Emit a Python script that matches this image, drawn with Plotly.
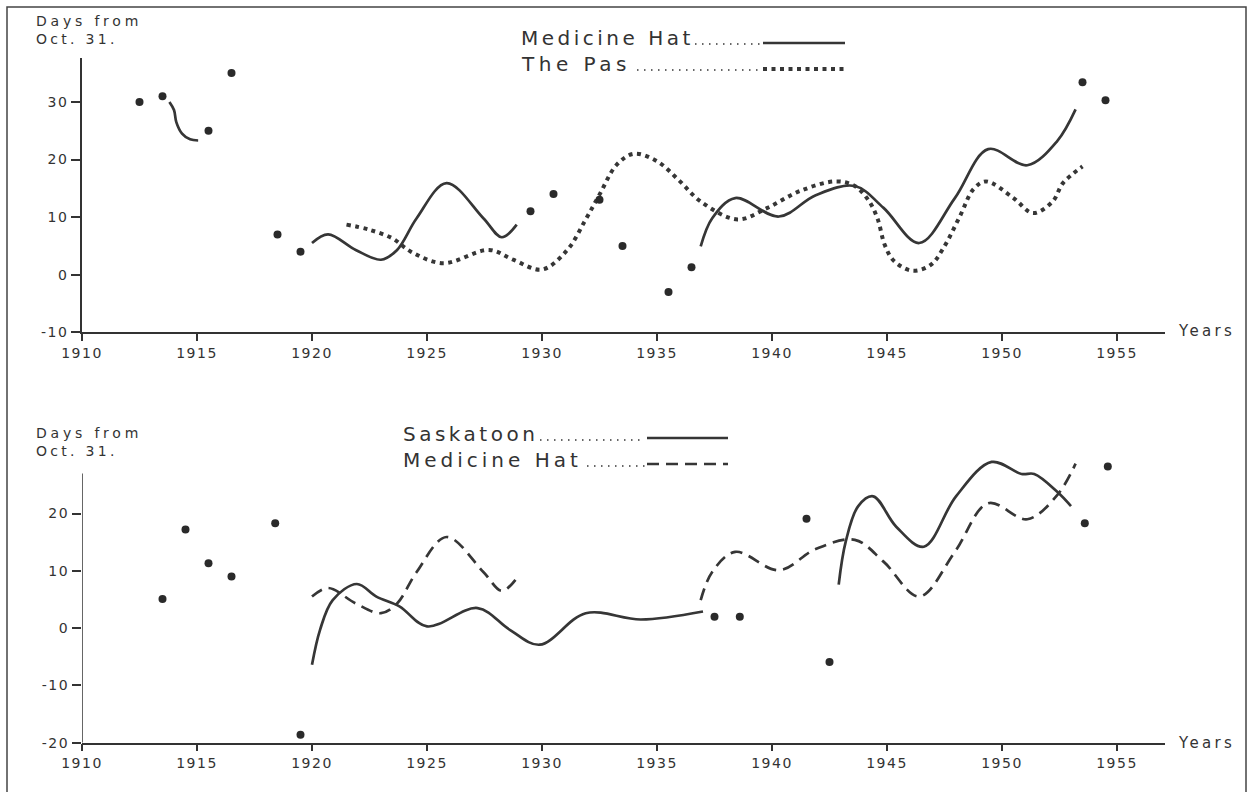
import plotly.graph_objects as go

# ---------------- data ----------------
x_ticks = [1910, 1915, 1920, 1925, 1930, 1935, 1940, 1945, 1950, 1955]
x_tick_labels = ["1910", "1915", "1920", "1925", "1930", "1935", "1940", "1945", "1950", "1955"]
top_y_ticks = [-10, 0, 10, 20, 30]
top_y_labels = ["-10", "0", "10", "20", "30"]
bottom_y_ticks = [-20, -10, 0, 10, 20]
bottom_y_labels = ["-20", "-10", "0", "10", "20"]

# upper panel: single-year observations
top_dot_years = [1912.5, 1913.5, 1915.5, 1916.5, 1918.5, 1919.5, 1929.5, 1930.5,
                 1932.5, 1933.5, 1935.5, 1936.5, 1953.5, 1954.5]
top_dot_days = [30, 31, 25, 35, 7, 4, 11, 14, 13, 5, -3, 1.3, 33.4, 30.3]

# Medicine Hat smoothed curve (three pieces)
mh_seg1_years = [1913.8, 1914.0, 1914.1, 1914.35, 1914.7, 1915.05]
mh_seg1_days = [30, 28.6, 26.5, 24.5, 23.5, 23.3]
mh_seg2_years = [1920.0, 1920.7, 1921.9, 1923.0, 1923.7, 1924.55, 1925.85, 1927.45, 1928.25, 1928.9]
mh_seg2_days = [5.5, 7.0, 4.3, 2.6, 4.3, 9.8, 15.9, 9.8, 6.5, 8.7]
mh_seg3_years = [1936.9, 1937.4, 1938.4, 1940.3, 1941.9, 1943.6, 1944.85, 1946.4, 1947.95,
                 1949.4, 1951.1, 1952.4, 1953.2]
mh_seg3_days = [4.9, 9.8, 13.3, 10.1, 13.8, 15.4, 11.6, 5.5, 13.3, 21.8, 19.0, 23.2, 28.7]

# The Pas smoothed curve
pas_years = [1921.5, 1922.5, 1923.5, 1924.3, 1925.7, 1927.7, 1928.75, 1930.0, 1931.1, 1931.9,
             1932.5, 1933.25, 1934.0, 1935.0, 1936.0, 1936.9, 1938.5, 1939.8, 1941.2, 1942.75,
             1943.6, 1944.23, 1944.6, 1944.9, 1945.3, 1946.1, 1946.9, 1947.45, 1948.2, 1948.75,
             1949.3, 1950.5, 1951.35, 1952.2, 1952.65, 1953.5]
pas_days = [8.7, 7.8, 6.3, 4.0, 2.0, 4.3, 2.6, 0.9, 4.3, 9.6,
            13.9, 19.1, 21.0, 19.7, 16.2, 12.7, 9.6, 11.6, 14.5, 16.2,
            15.4, 12.7, 9.6, 5.2, 2.4, 0.7, 1.7, 4.6, 10.4, 14.8,
            16.2, 13.3, 10.7, 12.7, 15.9, 18.8]

# lower panel: single-year observations
bottom_dot_years = [1913.5, 1914.5, 1915.5, 1916.5, 1918.4, 1919.5, 1937.5, 1938.6,
                    1941.5, 1942.5, 1953.6, 1954.6]
bottom_dot_days = [5.1, 17.2, 11.3, 9.0, 18.3, -18.6, 2.0, 2.0, 19.1, -5.9, 18.3, 28.2]

# Saskatoon smoothed curve (two pieces)
sask_seg1_years = [1920.0, 1920.35, 1920.9, 1921.95, 1922.8, 1923.8, 1925.0, 1927.2, 1928.6,
                   1929.9, 1931.9, 1934.3, 1937.0]
sask_seg1_days = [-6.4, -0.3, 4.9, 7.7, 5.5, 3.8, 0.3, 3.5, -0.3, -2.9, 2.6, 1.5, 2.9]
sask_seg2_years = [1942.9, 1943.2, 1943.75, 1944.4, 1945.4, 1946.6, 1948.0, 1949.55, 1950.85,
                   1951.4, 1952.4, 1953.0]
sask_seg2_days = [7.6, 15.0, 21.3, 23.0, 17.7, 14.2, 23.0, 29.0, 26.9, 26.9, 23.8, 21.3]

# ---------------- styling ----------------
W, H = 1249, 792
INK = "#333333"
FONT = "DejaVu Sans"


def spaced(text, px):
    return "<span style='letter-spacing:%spx'>%s</span>" % (px, text)


def px_x(p):
    return p / W


def px_y(p):
    return 1 - p / H


fig = go.Figure()


def curve(xs, ys, axis, dash=None, width=2.7):
    fig.add_trace(go.Scatter(
        x=xs, y=ys, mode="lines", xaxis="x" + axis, yaxis="y" + axis,
        line=dict(shape="spline", smoothing=1.0, color="#363636", width=width, dash=dash),
        hoverinfo="skip", showlegend=False))


def dots(xs, ys, axis):
    fig.add_trace(go.Scatter(
        x=xs, y=ys, mode="markers", xaxis="x" + axis, yaxis="y" + axis,
        marker=dict(size=8, color="#2a2a2a"), hoverinfo="skip", showlegend=False))


DOTTED = "4px,4.5px"
DASHED = "12px,7px"

# upper panel
curve(mh_seg1_years, mh_seg1_days, "")
curve(mh_seg2_years, mh_seg2_days, "")
curve(mh_seg3_years, mh_seg3_days, "")
curve(pas_years, pas_days, "", dash=DOTTED, width=4)
dots(top_dot_years, top_dot_days, "")

# lower panel
curve(sask_seg1_years, sask_seg1_days, "2")
curve(sask_seg2_years, sask_seg2_days, "2")
curve(mh_seg2_years, mh_seg2_days, "2", dash=DASHED)
curve(mh_seg3_years, mh_seg3_days, "2", dash=DASHED)
dots(bottom_dot_years, bottom_dot_days, "2")

x_left, x_right = 82, 1165
yr_px = 23.0
x_range = [1910, 1910 + (x_right - x_left) / yr_px]

tick_font = dict(family=FONT, size=14, color=INK)
x_text = [spaced(t, 1.5) for t in x_tick_labels]

axis_common = dict(showgrid=False, zeroline=False, linecolor=INK, linewidth=1.5,
                   ticks="outside", tickcolor=INK, tickwidth=1.5, tickfont=tick_font,
                   fixedrange=True, automargin=False)

# upper panel geometry (pixels)
top_y0_px, top_y1_px, top_scale = 332.3, 58, 5.76
# lower panel geometry (pixels); plot area taller than the drawn axis so curves can rise above it
bot_y0_px, bot_scale = 742.7, 5.73
bot_axis_top = 27
bot_range_top = 31

fig.update_layout(
    width=W, height=H, margin=dict(l=0, r=0, t=0, b=0, autoexpand=False),
    paper_bgcolor="white", plot_bgcolor="rgba(0,0,0,0)", template="none",
    xaxis=dict(domain=[px_x(x_left), px_x(x_right)], range=x_range, anchor="y", showline=True,
               tickmode="array", tickvals=x_ticks, ticktext=x_text, ticklen=7, **axis_common),
    yaxis=dict(domain=[px_y(top_y0_px), px_y(top_y1_px)],
               range=[-10, -10 + (top_y0_px - top_y1_px) / top_scale], anchor="x", showline=True,
               tickmode="array", tickvals=top_y_ticks,
               ticktext=[spaced(t, 1.5) for t in top_y_labels], ticklen=9, **axis_common),
    xaxis2=dict(domain=[px_x(x_left), px_x(x_right)], range=x_range, anchor="y2", showline=True,
                tickmode="array", tickvals=x_ticks, ticktext=x_text, ticklen=7, **axis_common),
    yaxis2=dict(domain=[px_y(bot_y0_px), px_y(bot_y0_px - (bot_range_top + 20) * bot_scale)],
                range=[-20, bot_range_top], anchor="x2", showline=False,
                tickmode="array", tickvals=bottom_y_ticks,
                ticktext=[spaced(t, 1.5) for t in bottom_y_labels], ticklen=9, **axis_common),
)

annotations = []


def note(text, x, y, size, xanchor="left", yanchor="middle", spacing=0):
    annotations.append(dict(text=spaced(text, spacing) if spacing else text, x=px_x(x), y=px_y(y),
                            xref="paper", yref="paper", xanchor=xanchor, yanchor=yanchor,
                            align="left", showarrow=False,
                            font=dict(family=FONT, size=size, color=INK)))


# axis titles
note(spaced("Days from", 3.8) + "<br>" + spaced("Oct. 31.", 3.3), 34, 11, 14, yanchor="top")
note(spaced("Days from", 3.8) + "<br>" + spaced("Oct. 31.", 3.3), 34, 423, 14, yanchor="top")
note("Years", 1176, 331, 15, spacing=3.3)
note("Years", 1176, 743, 15, spacing=3.3)

# key text
note("Medicine Hat", 519, 38, 20, spacing=3.5)
note("The Pas", 519, 64, 20, spacing=4.5)
note("Saskatoon", 401, 434, 20, spacing=3.5)
note("Medicine Hat", 401, 460, 20, spacing=4.0)

fig.update_layout(annotations=annotations)

shapes = []


def hline(x0, x1, y, dash="solid", width=2.7):
    shapes.append(dict(type="line", xref="paper", yref="paper", x0=px_x(x0), x1=px_x(x1),
                       y0=px_y(y), y1=px_y(y), line=dict(color="#363636", width=width, dash=dash)))


# key samples and leader dots
hline(695, 761, 44, dash="1.5px,5.5px", width=1.5)
hline(763, 845, 43)
hline(637, 761, 70, dash="1.5px,5.5px", width=1.5)
hline(763, 845, 69, dash=DOTTED, width=4)
hline(540, 645, 440, dash="1.5px,5.5px", width=1.5)
hline(647, 728, 438)
hline(587, 645, 466, dash="1.5px,5.5px", width=1.5)
hline(647, 728, 464, dash=DASHED)

# lower vertical axis line (stops at its top value, curves may pass above it)
shapes.append(dict(type="line", xref="x2", yref="y2", x0=x_range[0], x1=x_range[0],
                   y0=-20, y1=bot_axis_top, line=dict(color=INK, width=1.5)))

# frame around the whole figure
shapes.append(dict(type="rect", xref="paper", yref="paper", x0=px_x(7), x1=px_x(1246),
                   y0=px_y(800), y1=px_y(7), line=dict(color="#444444", width=1.5)))

fig.update_layout(shapes=shapes)

fig.write_html("out.html", config={"displayModeBar": False},
               post_script="document.body.style.margin='0';")
